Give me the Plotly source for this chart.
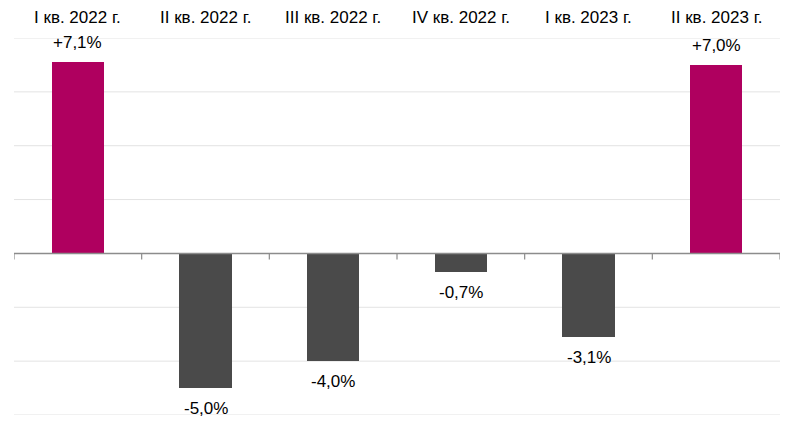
import plotly.graph_objects as go

categories = ["I кв. 2022 г.", "II кв. 2022 г.", "III кв. 2022 г.", "IV кв. 2022 г.", "I кв. 2023 г.", "II кв. 2023 г."]
values = [7.1, -5.0, -4.0, -0.7, -3.1, 7.0]
labels = ["+7,1%", "-5,0%", "-4,0%", "-0,7%", "-3,1%", "+7,0%"]

POS = "#AF005F"
NEG = "#4A4A4A"
FONT = "Arial"

xs = list(range(len(categories)))
colors = [POS if v > 0 else NEG for v in values]

fig = go.Figure()
fig.add_trace(go.Bar(x=xs, y=values, marker=dict(color=colors, line=dict(width=0)),
                     width=0.41, hoverinfo="skip"))

# value labels
for x, v, t in zip(xs, values, labels):
    fig.add_annotation(x=x, y=v, text=t, showarrow=False,
                       yanchor="bottom" if v > 0 else "top",
                       yshift=8 if v > 0 else -9,
                       font=dict(family=FONT, size=17, color="#000000"))

# category labels at top
for x, c in zip(xs, categories):
    fig.add_annotation(x=x, y=1, xref="x", yref="paper", text=c, showarrow=False,
                       yanchor="bottom", yshift=9,
                       font=dict(family=FONT, size=17, color="#000000"))

# horizontal gridlines (including range edges)
for g in [-6, -4, -2, 2, 4, 6, 8]:
    fig.add_shape(type="line", xref="paper", x0=0, x1=1, y0=g, y1=g,
                  line=dict(color="#e3e3e3", width=1), layer="below")

# zero axis line
fig.add_shape(type="line", x0=-0.5, x1=len(categories) - 0.5, y0=0, y1=0,
              line=dict(color="#8c8c8c", width=1.5), layer="above")
# ticks at category boundaries
for i in range(len(categories) + 1):
    b = i - 0.5
    fig.add_shape(type="line", x0=b, x1=b, ysizemode="pixel", yanchor=0, y0=0, y1=-6,
                  line=dict(color="#8c8c8c", width=1.2), layer="above")

fig.update_layout(
    width=798, height=428,
    margin=dict(l=14, r=18, t=38, b=13),
    paper_bgcolor="white", plot_bgcolor="white",
    showlegend=False,
    bargap=0,
    hovermode=False,
    xaxis=dict(range=[-0.5, len(categories) - 0.5], showticklabels=False, showgrid=False,
               zeroline=False, showline=False, ticks=""),
    yaxis=dict(range=[-6, 8], showticklabels=False, showgrid=False,
               zeroline=False, showline=False, ticks=""),
)

fig.write_html("out.html", config={"displayModeBar": False},
               post_script="document.body.style.margin='0';document.body.style.overflow='hidden';")
